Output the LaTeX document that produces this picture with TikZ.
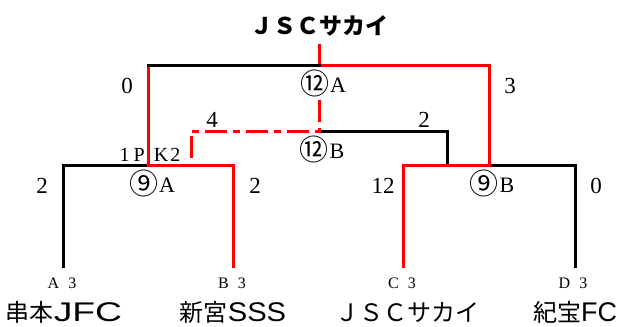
\documentclass[tikz,border=0pt]{standalone}
\usepackage{fontspec}
\setmainfont{Liberation Serif}
\newfontfamily\jpfont{Noto Sans CJK JP}
\newfontfamily\latsans{Liberation Sans}
\newcommand\latw[2]{\scalebox{#1}[1]{\latsans #2}}
\newcommand\circnum[1]{\raisebox{-2.5pt}{\jpfont\fontsize{29}{29}\selectfont #1}\hspace{1pt}}
\begin{document}
\begin{tikzpicture}[x=1pt,y=-1pt,
  every node/.style={inner sep=0pt,anchor=base},
  lose/.style={draw=black,line width=3pt},
  win/.style={draw=red,line width=3pt},
  third/.style={draw=red,line width=3pt,dash pattern=on 22pt off 6pt on 7pt off 6pt},
  num/.style={font=\fontsize{23}{23}\selectfont},
  lbl/.style={font=\fontsize{22}{22}\selectfont},
  pk/.style={font=\fontsize{20}{20}\selectfont},
  seed/.style={font=\fontsize{16}{16}\selectfont},
  team/.style={font=\jpfont\fontsize{24}{24}\selectfont},
  ttl/.style={font=\jpfont\bfseries\fontsize{23}{23}\selectfont}]
\useasboundingbox (0,0) rectangle (622,327);
% bracket points
\coordinate (A) at (63,268);
\coordinate (B) at (233,268);
\coordinate (C) at (403,268);
\coordinate (D) at (575,268);
\coordinate (m9a) at (148,165);
\coordinate (m9b) at (489,165);
\coordinate (m12bR) at (447,165);
\coordinate (m12aL) at (148,65);
\coordinate (m12a) at (319,65);
\coordinate (m12aR) at (489,65);
\coordinate (champ) at (319,44);
\coordinate (m12b) at (319,131);
\coordinate (m12bT) at (319,100);
\coordinate (m12bL) at (191,131);
\coordinate (m12bLE) at (191,161);
% losing lines
\draw[lose] (A) |- (m9a);
\draw[lose] (D) |- (m9b);
\draw[lose] (m12b) -| (m12bR);
% winning lines
\draw[win] (B) |- (m9a) -- (m12aL);
\draw[win] (C) |- (m9b) -- (m12aR) -- (m12a) -- (champ);
\draw[lose,line cap=rect] (m12aL) -- (m12a);
% third-place style line
\draw[third] (m12bT) -- (m12b) -- (m12bL) -- (m12bLE);
% title
\node[ttl] (title) at (319,34) {ＪＳＣサカイ};
% scores
\node[num] (s1) at (127,93) {0};
\node[num] (s2) at (510,93) {3};
\node[lbl] (g12a) at (323,92) {\circnum{⑫}A};
\node[num] (s3) at (212,127) {4};
\node[num] (s4) at (424,127) {2};
\node[lbl] (g12b) at (322,158) {\circnum{⑫}B};
\node[pk] (pk) at (150,161) {1\hspace{4pt}P\hspace{9pt}K\hspace{2pt}2};
\node[num] (s5) at (42,193) {2};
\node[lbl] (g9a) at (152,192) {\circnum{⑨}A};
\node[num] (s6) at (255,193) {2};
\node[num] (s7) at (383,193) {12};
\node[lbl] (g9b) at (492,192) {\circnum{⑨}B};
\node[num] (s8) at (596,193) {0};
% seeds
\node[seed] (ka) at (62,288) {A\hspace{9pt}3};
\node[seed] (kb) at (232,288) {B\hspace{9pt}3};
\node[seed] (kc) at (402,288) {C\hspace{9pt}3};
\node[seed] (kd) at (573,288) {D\hspace{9pt}3};
% teams
\node[team] (ta) at (64,321) {串本\latw{1.38}{\fontsize{27}{27}\selectfont JFC}};
\node[team] (tb) at (233,321) {新宮\latw{1.08}{\fontsize{27}{27}\selectfont SSS}};
\node[team] (tc) at (407,321) {ＪＳＣサカイ};
\node[team] (td) at (575,321) {紀宝\latw{1.0}{\fontsize{27}{27}\selectfont FC}};
\end{tikzpicture}
\end{document}
